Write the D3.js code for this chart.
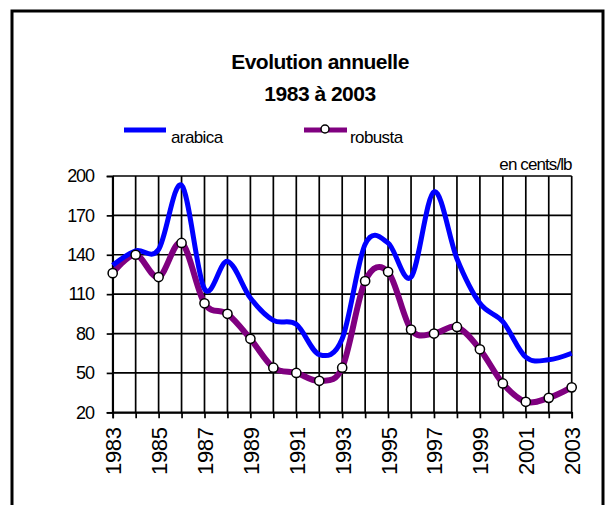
<!DOCTYPE html>
<html>
<head>
<meta charset="utf-8">
<script src="https://cdn.jsdelivr.net/npm/d3@7"></script>
<style>
  html, body { margin: 0; padding: 0; background: #fff; }
  svg { display: block; font-family: "Liberation Sans", Arial, sans-serif; }
</style>
</head>
<body>
<svg id="chart" width="609" height="505"></svg>
<script>
// Coffee prices, annual averages (US cents per lb)
const years = d3.range(1983, 2004);
const arabica = [132, 143, 144, 193, 114, 135, 107, 90, 87, 64, 76, 148, 149, 123, 188, 137, 103, 89, 62, 60, 65];
const robusta = [126, 140, 123, 149, 103, 95, 76, 54, 50, 44, 54, 120, 127, 83, 80, 85, 68, 42, 28, 31, 39];
const yTicks = [20, 50, 80, 110, 140, 170, 200];
const xTickYears = years;

const svg = d3.select("#chart");

// Outer frame (open at the bottom edge of the page)
svg.append("rect")
  .attr("x", 12).attr("y", 11)
  .attr("width", 591).attr("height", 540)
  .attr("fill", "none").attr("stroke", "#000").attr("stroke-width", 3);

// Title
const title = svg.append("text")
  .attr("x", 320).attr("text-anchor", "middle")
  .style("font-weight", "bold").style("font-size", "21px").style("letter-spacing", "-0.5px");
title.append("tspan").attr("x", 320).attr("y", 69).text("Evolution annuelle");
title.append("tspan").attr("x", 320).attr("y", 101).text("1983 à 2003");

const plotLeft = 112.7, plotRight = 571.7, plotTop = 176, plotBottom = 412.3;
const x = d3.scaleLinear().domain([1983, 2003]).range([plotLeft, plotRight]);
const y = d3.scaleLinear().domain([20, 200]).range([plotBottom, plotTop]);

// Grid
const grid = svg.append("g").attr("stroke", "#000").attr("stroke-width", 1.7);
grid.selectAll("line.v").data(xTickYears).join("line")
  .attr("class", "v")
  .attr("x1", d => x(d)).attr("x2", d => x(d))
  .attr("y1", plotTop).attr("y2", plotBottom);
grid.selectAll("line.h").data(yTicks).join("line")
  .attr("class", "h")
  .attr("x1", plotLeft).attr("x2", plotRight)
  .attr("y1", d => y(d)).attr("y2", d => y(d));

// Axes
const yAxis = svg.append("g")
  .attr("transform", `translate(${plotLeft},0)`)
  .call(d3.axisLeft(y).tickValues(yTicks).tickSize(6).tickPadding(13));
yAxis.select(".domain").attr("stroke-width", 1.7);
yAxis.selectAll(".tick line").attr("stroke-width", 1.7);
yAxis.selectAll("text")
  .style("font-size", "18px").style("letter-spacing", "-1.2px")
  .attr("fill", "#000");

const xAxis = svg.append("g")
  .attr("transform", `translate(0,${plotBottom})`)
  .call(d3.axisBottom(x).tickValues(xTickYears).tickSize(6).tickFormat(d3.format("d")));
xAxis.select(".domain").attr("stroke-width", 1.7);
xAxis.selectAll(".tick line").attr("stroke-width", 1.7);
xAxis.selectAll("text")
  .style("font-size", "22px").style("letter-spacing", "-0.3px")
  .attr("fill", "#000")
  .attr("transform", "rotate(-90)")
  .attr("text-anchor", "end")
  .attr("x", -15).attr("y", 0).attr("dy", "0.36em")
  .text((d, i) => (i % 2 === 0 ? d : ""));

// Unit label
svg.append("text")
  .attr("x", plotRight).attr("y", 170).attr("text-anchor", "end")
  .style("font-size", "17px").style("letter-spacing", "-0.9px")
  .text("en cents/lb");

// Series
const line = d3.line().x((d, i) => x(years[i])).y(d => y(d)).curve(d3.curveCardinal.tension(0));

svg.append("path").datum(robusta)
  .attr("d", line).attr("fill", "none")
  .attr("stroke", "#800080").attr("stroke-width", 6).attr("stroke-linejoin", "round");

svg.append("path").datum(arabica)
  .attr("d", line).attr("fill", "none")
  .attr("stroke", "#0000ff").attr("stroke-width", 5).attr("stroke-linejoin", "round");

svg.selectAll("circle.rob").data(robusta).join("circle")
  .attr("class", "rob")
  .attr("cx", (d, i) => x(years[i])).attr("cy", d => y(d))
  .attr("r", 4.6).attr("fill", "#fff").attr("stroke", "#000").attr("stroke-width", 1.5);

// Legend
const leg = svg.append("g");
leg.append("line").attr("x1", 124).attr("x2", 166).attr("y1", 130).attr("y2", 130)
  .attr("stroke", "#0000ff").attr("stroke-width", 5);
leg.append("text").attr("x", 171).attr("y", 143)
  .style("font-size", "17px").style("letter-spacing", "-0.6px").text("arabica");
leg.append("line").attr("x1", 304).attr("x2", 347).attr("y1", 130).attr("y2", 130)
  .attr("stroke", "#800080").attr("stroke-width", 5);
leg.append("circle").attr("cx", 325).attr("cy", 129).attr("r", 4)
  .attr("fill", "#fff").attr("stroke", "#000").attr("stroke-width", 1.5);
leg.append("text").attr("x", 350).attr("y", 143)
  .style("font-size", "17px").style("letter-spacing", "-0.6px").text("robusta");
</script>
</body>
</html>
